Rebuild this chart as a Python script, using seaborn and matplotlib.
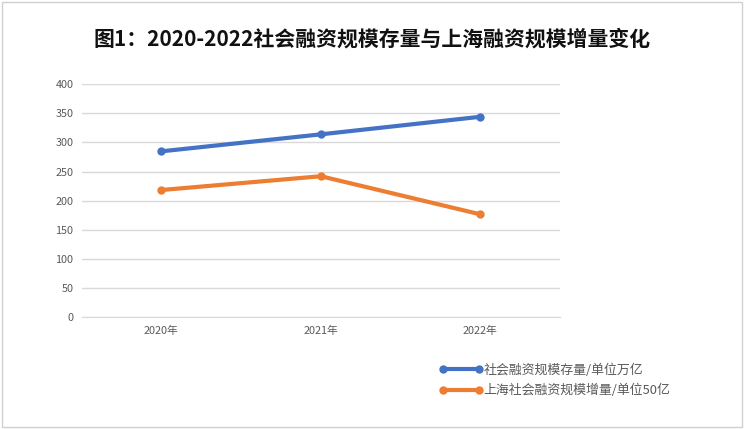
import numpy as np
import pandas as pd
import matplotlib
matplotlib.use('Agg')
import matplotlib.pyplot as plt
import seaborn as sns
from matplotlib.patches import Rectangle

# data
years = ['2020年', '2021年', '2022年']
stock = [284.8, 314.0, 344.2]        # 社会融资规模存量 / 万亿
shanghai = [218.3, 242.0, 176.5]     # 上海社会融资规模增量 / 50亿
series_names = ['社会融资规模存量/单位万亿', '上海社会融资规模增量/单位50亿']
yticks = [0, 50, 100, 150, 200, 250, 300, 350, 400]

df = pd.DataFrame({
    'year': years * 2,
    'value': stock + shanghai,
    'series': [series_names[0]] * 3 + [series_names[1]] * 3,
})

sns.set_style('white')
plt.rcParams['font.family'] = ['Noto Sans CJK SC', 'DejaVu Sans']

fig = plt.figure(figsize=(7.44, 4.29), dpi=100)
ax = fig.add_axes([0.1098, 0.261, 0.643, 0.5425])

palette = {series_names[0]: '#4472C4', series_names[1]: '#ED7D31'}
sns.lineplot(data=df, x='year', y='value', hue='series', palette=palette,
             marker='o', markersize=6, linewidth=3, markeredgewidth=0,
             sort=False, ax=ax, legend=False)

ax.set_xlim(-0.5, 2.5)
ax.set_ylim(0, 400)
ax.set_yticks(yticks)
ax.set_yticklabels([str(t) for t in yticks])
ax.yaxis.grid(True, color='#d9d9d9', linewidth=1)
ax.set_axisbelow(True)
for s in ['top', 'right', 'left']:
    ax.spines[s].set_visible(False)
ax.spines['bottom'].set_color('#d9d9d9')
ax.tick_params(axis='both', length=0, labelsize=7.8, labelcolor='#595959', pad=6)
ax.set_xlabel('')
ax.set_ylabel('')

# legend at lower right, markers at both ends like Excel
handles = [plt.Line2D([0, 1], [0, 0], color=palette[n], linewidth=3, marker='o',
                      markersize=6, markeredgewidth=0) for n in series_names]
fig.legend(handles, series_names, loc='upper left', bbox_to_anchor=(0.575, 0.18),
           frameon=False, numpoints=2, handlelength=3.4, handletextpad=0.0,
           labelspacing=0.55, fontsize=9.3, labelcolor='#595959')

fig.text(0.5, 0.91, '图1：2020-2022社会融资规模存量与上海融资规模增量变化',
         ha='center', va='center', fontsize=15, fontweight='bold', color='#111111')

fig.patches.append(Rectangle((0.003, 0.004), 0.994, 0.992, transform=fig.transFigure,
                             fill=False, edgecolor='#d0d0d0', linewidth=1))

fig.savefig('out.png', dpi=100)
